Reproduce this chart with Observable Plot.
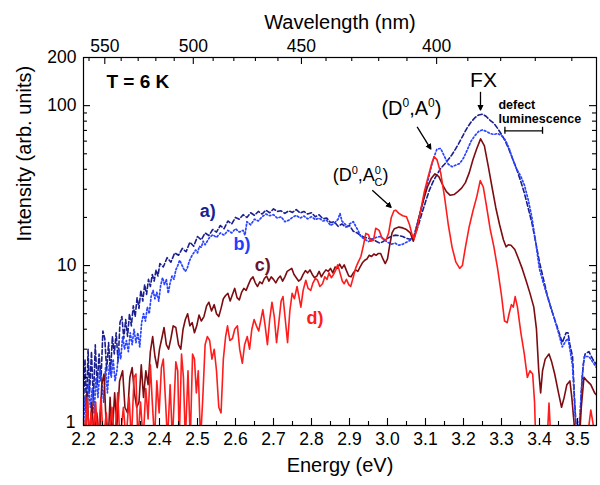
<!DOCTYPE html>
<html><head><meta charset="utf-8">
<script src="https://cdn.jsdelivr.net/npm/d3@7"></script>
<script src="https://cdn.jsdelivr.net/npm/@observablehq/plot@0.6"></script>
<style>body{margin:0;background:#fff} svg{font-family:"Liberation Sans",Arial,Helvetica,sans-serif}</style>
</head><body><div id="chart"></div>
<script>
// ---- data: [energy (eV), intensity (arb. units)] ----
const seriesA = [[2.200,1.3],[2.204,2.6],[2.208,1.2],[2.212,3.0],[2.216,1.6],[2.221,2.9],[2.226,1.4],[2.231,3.2],[2.236,1.8],[2.241,2.8],[2.246,1.9],[2.251,3.9],[2.256,3.5],[2.261,2.2],[2.266,3.3],[2.271,2.1],[2.276,3.6],[2.281,2.8],[2.286,3.8],[2.291,2.5],[2.296,4.4],[2.301,4.8],[2.306,3.5],[2.311,4.6],[2.316,3.6],[2.321,5.0],[2.326,4.2],[2.331,5.6],[2.336,4.8],[2.341,6.3],[2.346,5.4],[2.351,7.0],[2.356,6.0],[2.361,7.6],[2.366,6.6],[2.371,8.2],[2.376,7.4],[2.381,8.8],[2.386,8.0],[2.391,9.4],[2.396,8.6],[2.401,10.3],[2.41,9.8],[2.42,11.2],[2.43,10.5],[2.44,12.0],[2.45,11.6],[2.46,12.8],[2.47,12.2],[2.48,14.0],[2.49,13.2],[2.50,15.2],[2.51,14.5],[2.52,16.0],[2.53,15.4],[2.54,16.8],[2.55,16.2],[2.56,17.8],[2.57,17.0],[2.58,19.0],[2.59,18.2],[2.60,20.0],[2.61,19.5],[2.62,20.8],[2.63,20.0],[2.64,21.4],[2.65,20.6],[2.66,21.8],[2.67,21.0],[2.68,22.2],[2.69,21.4],[2.70,22.6],[2.71,21.8],[2.72,22.0],[2.73,21.2],[2.74,22.0],[2.75,21.5],[2.76,22.4],[2.77,21.3],[2.78,21.8],[2.79,21.0],[2.80,21.4],[2.81,20.2],[2.82,20.8],[2.83,19.6],[2.84,19.8],[2.85,18.6],[2.86,18.8],[2.87,17.6],[2.88,18.2],[2.89,17.4],[2.90,17.8],[2.91,16.4],[2.92,16.0],[2.93,15.4],[2.94,15.0],[2.95,14.8],[2.96,14.6],[2.97,14.2],[2.98,13.8],[2.99,14.2],[3.00,14.8],[3.01,15.2],[3.02,15.5],[3.03,15.4],[3.04,15.2],[3.05,14.8],[3.06,14.6],[3.07,15.0],[3.08,17.5],[3.09,21.0],[3.10,25.0],[3.11,29.5],[3.12,33.5],[3.13,37.0],[3.14,40.5],[3.15,43.0],[3.16,46.0],[3.17,49.5],[3.18,54.0],[3.19,59.5],[3.20,66.0],[3.21,73.0],[3.22,79.0],[3.23,84.0],[3.24,87.5],[3.25,88.5],[3.26,85.5],[3.27,81.0],[3.28,77.5],[3.29,72.0],[3.30,66.0],[3.31,60.0],[3.32,53.0],[3.33,46.0],[3.34,40.0],[3.35,34.0],[3.36,28.5],[3.37,23.0],[3.38,18.5],[3.39,14.0],[3.40,10.5],[3.41,8.3],[3.42,6.6],[3.43,5.4],[3.44,4.6],[3.45,3.9],[3.46,3.3],[3.47,3.8],[3.475,3.8],[3.48,3.2],[3.487,2.7],[3.492,1.5],[3.496,1.0],[3.50,0.8],[3.505,0.9],[3.51,1.6],[3.515,2.4],[3.52,2.8],[3.53,2.9],[3.54,2.6],[3.55,2.4]];

const seriesB = [[2.200,1.0],[2.204,1.5],[2.208,1.1],[2.213,1.8],[2.218,1.3],[2.223,1.7],[2.228,1.2],[2.233,2.0],[2.238,1.5],[2.243,2.2],[2.248,1.9],[2.253,1.4],[2.258,2.3],[2.263,1.6],[2.268,2.4],[2.273,2.0],[2.278,2.6],[2.283,1.9],[2.288,2.2],[2.293,3.0],[2.298,2.6],[2.303,3.6],[2.308,3.0],[2.313,3.4],[2.318,2.9],[2.323,3.8],[2.328,3.2],[2.333,4.0],[2.338,3.3],[2.343,3.8],[2.348,3.1],[2.353,4.4],[2.358,5.0],[2.363,4.5],[2.368,5.5],[2.373,5.0],[2.378,6.4],[2.383,7.0],[2.388,6.2],[2.393,6.8],[2.398,6.0],[2.403,7.5],[2.408,8.4],[2.413,7.6],[2.418,8.2],[2.423,6.7],[2.428,7.8],[2.433,8.6],[2.438,8.2],[2.443,9.4],[2.448,10.0],[2.453,10.8],[2.458,10.2],[2.463,9.6],[2.468,9.2],[2.473,9.6],[2.478,10.6],[2.485,11.5],[2.49,12.0],[2.495,12.5],[2.50,12.0],[2.505,13.2],[2.51,13.0],[2.515,14.2],[2.52,13.5],[2.53,14.8],[2.54,15.6],[2.55,15.0],[2.56,16.0],[2.57,15.5],[2.58,16.6],[2.59,16.0],[2.60,17.0],[2.61,16.2],[2.62,16.6],[2.625,15.5],[2.63,18.8],[2.64,18.0],[2.65,19.5],[2.66,19.0],[2.67,20.2],[2.68,21.0],[2.69,20.5],[2.70,20.8],[2.71,19.8],[2.72,20.2],[2.73,18.8],[2.74,19.2],[2.75,20.0],[2.76,20.6],[2.77,19.8],[2.78,20.4],[2.79,19.6],[2.80,20.2],[2.81,19.4],[2.82,19.8],[2.83,19.0],[2.84,19.2],[2.85,17.8],[2.86,18.4],[2.87,19.5],[2.875,21.2],[2.88,19.0],[2.89,18.0],[2.895,17.5],[2.90,18.2],[2.91,18.8],[2.92,17.0],[2.93,15.2],[2.94,14.6],[2.95,14.1],[2.96,14.6],[2.97,15.0],[2.98,15.2],[2.99,14.6],[3.00,14.0],[3.01,13.6],[3.02,13.8],[3.03,13.4],[3.04,13.6],[3.05,14.0],[3.06,14.4],[3.07,15.5],[3.08,19.0],[3.09,23.0],[3.10,29.0],[3.11,37.0],[3.12,46.0],[3.13,53.5],[3.14,54.0],[3.15,48.0],[3.16,43.0],[3.17,41.5],[3.18,42.5],[3.19,43.5],[3.20,47.0],[3.21,53.0],[3.22,60.0],[3.23,65.0],[3.24,69.0],[3.25,70.5],[3.26,69.0],[3.27,67.0],[3.28,66.0],[3.29,67.0],[3.30,65.0],[3.31,61.0],[3.32,54.0],[3.33,46.0],[3.34,40.0],[3.35,36.5],[3.36,32.0],[3.37,26.0],[3.38,20.0],[3.39,14.0],[3.40,9.5],[3.41,7.8],[3.42,6.5],[3.43,5.5],[3.44,4.6],[3.45,3.8],[3.46,3.1],[3.47,3.4],[3.475,3.5],[3.48,3.0],[3.487,2.35],[3.492,1.4],[3.497,0.9],[3.502,0.9],[3.507,1.2],[3.512,2.0],[3.518,2.7],[3.53,2.7],[3.54,2.5],[3.55,2.3]];

const seriesC = [[2.200,1.0],[2.205,0.8],[2.210,1.6],[2.215,0.8],[2.222,1.4],[2.228,0.8],[2.235,1.2],[2.242,0.8],[2.248,1.8],[2.254,2.1],[2.259,1.1],[2.265,0.8],[2.27,1.5],[2.275,0.8],[2.282,1.6],[2.288,1.0],[2.295,1.9],[2.303,2.2],[2.309,1.3],[2.316,1.2],[2.322,2.0],[2.328,2.3],[2.334,1.6],[2.34,1.3],[2.346,1.4],[2.352,2.4],[2.358,1.5],[2.364,2.2],[2.37,1.8],[2.376,2.9],[2.382,3.6],[2.388,2.7],[2.394,2.3],[2.4,3.0],[2.406,3.5],[2.412,4.1],[2.418,3.2],[2.424,3.0],[2.43,3.5],[2.436,4.2],[2.443,4.1],[2.45,3.2],[2.456,3.0],[2.462,4.0],[2.468,4.6],[2.474,5.0],[2.48,4.2],[2.486,4.4],[2.492,3.8],[2.498,4.2],[2.504,4.9],[2.51,4.5],[2.517,4.8],[2.524,5.6],[2.53,5.9],[2.537,5.2],[2.544,5.7],[2.55,5.0],[2.556,4.8],[2.562,5.4],[2.568,6.2],[2.574,6.5],[2.58,6.7],[2.586,6.0],[2.592,6.6],[2.598,7.2],[2.604,6.3],[2.61,6.1],[2.616,6.8],[2.622,7.2],[2.628,7.0],[2.634,7.6],[2.64,8.2],[2.646,8.5],[2.652,7.8],[2.658,7.4],[2.664,7.9],[2.67,7.7],[2.676,8.3],[2.682,8.6],[2.688,8.0],[2.694,8.5],[2.70,8.2],[2.706,7.8],[2.712,8.3],[2.718,8.6],[2.724,8.0],[2.73,8.5],[2.736,9.2],[2.742,9.4],[2.748,9.6],[2.754,8.8],[2.76,8.4],[2.766,8.0],[2.772,8.2],[2.778,8.8],[2.784,9.3],[2.79,9.0],[2.796,9.4],[2.802,8.8],[2.808,8.4],[2.814,8.6],[2.82,9.2],[2.826,8.5],[2.832,9.0],[2.838,9.4],[2.844,9.2],[2.85,9.6],[2.856,9.0],[2.862,9.8],[2.868,9.6],[2.874,10.2],[2.88,9.6],[2.886,10.1],[2.892,9.3],[2.898,8.6],[2.904,8.5],[2.91,9.0],[2.916,9.4],[2.922,9.2],[2.928,9.8],[2.934,10.4],[2.94,10.8],[2.946,11.0],[2.952,11.6],[2.958,11.4],[2.964,11.8],[2.97,11.6],[2.976,11.9],[2.982,11.9],[2.988,11.0],[2.994,10.3],[3.00,11.0],[3.006,13.5],[3.012,16.0],[3.018,17.0],[3.03,17.4],[3.04,17.2],[3.05,16.8],[3.06,16.0],[3.068,14.2],[3.075,16.5],[3.085,21.0],[3.095,26.0],[3.105,31.0],[3.115,35.0],[3.125,37.5],[3.135,36.0],[3.145,32.0],[3.155,29.0],[3.165,27.5],[3.175,27.8],[3.185,29.0],[3.195,30.5],[3.205,33.0],[3.215,38.0],[3.225,46.0],[3.235,54.0],[3.245,62.0],[3.255,56.0],[3.265,42.0],[3.275,31.0],[3.285,23.0],[3.295,18.0],[3.305,14.5],[3.312,13.1],[3.318,13.5],[3.325,13.4],[3.335,12.6],[3.345,11.0],[3.355,9.5],[3.365,8.0],[3.375,6.7],[3.385,5.5],[3.392,4.0],[3.398,2.2],[3.403,1.6],[3.408,2.2],[3.415,2.6],[3.425,2.8],[3.432,2.5],[3.44,2.1],[3.45,1.6],[3.458,1.3],[3.465,1.5],[3.472,1.8],[3.48,1.9],[3.485,1.5],[3.49,1.1],[3.495,0.8],[3.505,0.8],[3.51,1.3],[3.517,2.0],[3.525,1.9],[3.535,1.8],[3.545,1.6],[3.55,1.55]];

const seriesD = [[2.200,1.1],[2.205,0.8],[2.21,1.5],[2.215,0.8],[2.22,1.2],[2.226,0.8],[2.232,1.4],[2.238,0.8],[2.246,1.5],[2.252,0.8],[2.26,1.2],[2.266,0.8],[2.275,1.3],[2.282,0.8],[2.29,1.6],[2.296,0.8],[2.305,1.3],[2.312,0.8],[2.32,1.5],[2.326,0.8],[2.333,2.0],[2.338,2.1],[2.343,0.8],[2.35,1.4],[2.357,0.8],[2.364,1.7],[2.37,1.1],[2.376,2.4],[2.381,1.4],[2.387,0.8],[2.393,1.9],[2.399,1.2],[2.405,2.3],[2.41,2.6],[2.416,1.4],[2.421,0.8],[2.428,1.8],[2.434,0.8],[2.443,2.5],[2.448,2.2],[2.452,0.8],[2.458,2.8],[2.463,2.0],[2.468,0.8],[2.475,2.2],[2.481,0.8],[2.487,2.8],[2.492,2.6],[2.497,1.6],[2.502,2.2],[2.508,0.8],[2.514,1.5],[2.52,3.2],[2.526,3.6],[2.532,3.4],[2.538,2.6],[2.544,3.0],[2.55,2.2],[2.556,1.3],[2.562,1.2],[2.568,2.6],[2.574,3.6],[2.579,4.2],[2.585,3.4],[2.592,3.5],[2.598,4.0],[2.605,4.2],[2.611,3.0],[2.618,2.45],[2.624,3.2],[2.631,3.6],[2.637,3.0],[2.643,4.0],[2.649,4.6],[2.655,4.2],[2.661,3.9],[2.667,4.6],[2.672,5.3],[2.678,4.2],[2.684,3.2],[2.69,4.6],[2.696,5.9],[2.702,4.8],[2.708,3.3],[2.714,4.4],[2.72,6.0],[2.725,6.4],[2.731,4.6],[2.737,3.3],[2.743,5.2],[2.749,6.7],[2.755,6.2],[2.762,7.4],[2.767,6.4],[2.772,5.5],[2.778,7.0],[2.785,8.1],[2.791,7.2],[2.798,7.0],[2.804,7.8],[2.81,8.3],[2.816,8.1],[2.822,7.4],[2.829,7.7],[2.835,8.5],[2.841,8.2],[2.846,9.0],[2.852,8.4],[2.858,8.8],[2.864,9.4],[2.869,10.1],[2.875,9.0],[2.881,8.0],[2.886,7.7],[2.892,8.2],[2.898,7.6],[2.903,7.4],[2.909,8.3],[2.916,9.6],[2.922,10.4],[2.93,11.4],[2.937,13.5],[2.943,15.9],[2.95,15.6],[2.956,14.2],[2.963,14.4],[2.969,17.1],[2.978,16.6],[2.985,15.0],[2.99,14.7],[2.996,14.4],[3.003,16.0],[3.01,20.0],[3.017,22.0],[3.022,22.2],[3.03,21.2],[3.04,20.5],[3.05,20.2],[3.058,18.0],[3.065,15.5],[3.07,14.7],[3.078,17.0],[3.087,22.0],[3.097,29.0],[3.107,36.0],[3.117,44.0],[3.123,47.9],[3.13,46.0],[3.14,38.0],[3.15,27.0],[3.16,18.0],[3.17,13.0],[3.18,10.5],[3.19,9.6],[3.197,10.0],[3.205,13.0],[3.215,17.5],[3.225,22.0],[3.235,27.0],[3.244,34.0],[3.252,31.0],[3.26,24.0],[3.27,17.0],[3.28,13.1],[3.29,9.5],[3.30,6.5],[3.308,4.5],[3.315,4.4],[3.32,5.0],[3.326,5.7],[3.331,5.5],[3.336,6.4],[3.342,5.5],[3.351,3.8],[3.36,2.8],[3.368,2.0],[3.375,2.2],[3.382,2.1],[3.387,1.4],[3.39,0.8],[3.42,0.8],[3.425,1.38],[3.43,0.8],[3.525,0.8],[3.535,1.25],[3.545,0.9],[3.55,0.8]];

const seriesColors = ["#1b1f8f", "#2a44ff", "#7d0c10", "#ff1c1c"];
const seriesNames = ["a)", "b)", "c)", "d)"];
const labelColors = ["#1b1f8f", "#1f3cff", "#6a1530", "#ff1c1c"];
const labelEnergy = [2.527, 2.617, 2.672, 2.809];
const labelIntensity = [21.9, 13.6, 10.1, 4.7];

// axis ticks
const energyTicks = [2.2,2.3,2.4,2.5,2.6,2.7,2.8,2.9,3.0,3.1,3.2,3.3,3.4,3.5];
const energyMinor = d3.range(2.25, 3.55, 0.1);
const intensityTicks = [10, 100, 200];
const intensityBottomTick = [1];
const intensityMajor = [1, 10, 100];
const intensityMinor = [2,3,4,5,6,7,8,9,20,30,40,50,60,70,80,90];
const wavelengthTicks = [550, 500, 450, 400];
const wavelengthMinor = [560,540,530,520,510,490,480,470,460,440,430,420,410,390,380,370,360];
// wavelength (nm) -> position on the energy axis (top axis of the original is slightly stretched)
const wlPos = wl => 2.2 + (1239.84 / wl - 2.2) * 1.033;

// annotations
const arrows = [
  {x1: 3.2447, y1: 122, x2: 3.2447, y2: 95},   // FX
  {x1: 3.078, y1: 73.7, x2: 3.113, y2: 54},     // (D0,A0)
  {x1: 2.960, y1: 29.6, x2: 3.008, y2: 23.3}    // (D0,A0C)
];
const defectRange = [3.309, 3.408];
const defectLevel = 69.6;

const W = 600, H = 485, ML = 83, MR = 4, MT = 57, MB = 60;
const FW = W - ML - MR, FH = H - MT - MB;
const fs = 17.5;

const lineOpts = extra => Object.assign({x: d => d[0], y: d => d[1], clip: true, strokeWidth: 1.6, strokeLinejoin: "round"}, extra);

const chart = Plot.plot({
  width: W, height: H,
  marginLeft: ML, marginRight: MR, marginTop: MT, marginBottom: MB,
  x: {domain: [2.2, 3.55], axis: null},
  y: {type: "log", domain: [1, 200], axis: null},
  marks: [
    Plot.line(seriesA, lineOpts({stroke: seriesColors[0], strokeDasharray: "4.5,2.5"})),
    Plot.line(seriesB, lineOpts({stroke: seriesColors[1], strokeDasharray: "1.6,2.2", strokeWidth: 1.7})),
    Plot.line(seriesC, lineOpts({stroke: seriesColors[2]})),
    Plot.line(seriesD, lineOpts({stroke: seriesColors[3]})),
    Plot.frame({stroke: "black", strokeWidth: 1.2}),
    // bottom ticks (inward)
    Plot.ruleX(energyTicks, {x: d => d, insetTop: FH - 7, stroke: "black", strokeWidth: 1.1}),
    Plot.ruleX(energyMinor, {x: d => d, insetTop: FH - 4, stroke: "black", strokeWidth: 1.1}),
    // top ticks (wavelength)
    Plot.ruleX(wavelengthTicks, {x: wlPos, insetBottom: FH - 7, stroke: "black", strokeWidth: 1.1}),
    Plot.ruleX(wavelengthMinor, {x: wlPos, insetBottom: FH - 4, stroke: "black", strokeWidth: 1.1}),
    // left / right ticks
    Plot.ruleY(intensityMajor, {y: d => d, insetRight: FW - 7, stroke: "black", strokeWidth: 1.1}),
    Plot.ruleY(intensityMinor, {y: d => d, insetRight: FW - 4, stroke: "black", strokeWidth: 1.1}),
    Plot.ruleY(intensityMajor, {y: d => d, insetLeft: FW - 7, stroke: "black", strokeWidth: 1.1}),
    Plot.ruleY(intensityMinor, {y: d => d, insetLeft: FW - 4, stroke: "black", strokeWidth: 1.1}),
    // tick labels
    Plot.text(energyTicks, {x: d => d, frameAnchor: "bottom", dy: 19.5, text: d => d.toFixed(1), fontSize: fs, fill: "black"}),
    Plot.text(wavelengthTicks, {x: wlPos, frameAnchor: "top", dy: -18, text: d => String(d), fontSize: fs, fill: "black"}),
    Plot.text(intensityTicks, {y: d => d, frameAnchor: "left", dx: -7, textAnchor: "end", text: d => String(d), fontSize: fs, fill: "black"}),
    Plot.text(intensityBottomTick, {y: d => d, frameAnchor: "left", dx: -8, dy: -3, textAnchor: "end", text: d => String(d), fontSize: fs, fill: "black"}),
    // axis titles
    Plot.text(["Energy (eV)"], {frameAnchor: "bottom", dy: 46, text: d => d, fontSize: 20, fill: "black"}),
    Plot.text(["Wavelength (nm)"], {frameAnchor: "top", dy: -43, text: d => d, fontSize: 20, fill: "black"}),
    Plot.text(["Intensity (arb. units)"], {frameAnchor: "left", dx: -59, rotate: -90, text: d => d, fontSize: 20, fill: "black"}),
    // curve labels
    Plot.text(seriesNames, {x: (d, i) => labelEnergy[i], y: (d, i) => labelIntensity[i], text: d => d, fill: (d, i) => labelColors[i], fontSize: 18, fontWeight: "bold"}),
    // temperature
    Plot.text(["T = 6 K"], {x: 2.2605, y: 140, text: d => d, textAnchor: "start", fontSize: 19, fontWeight: "bold", fill: "black"}),
    // peak labels
    Plot.text(["FX"], {x: 3.2526, y: 144, text: d => d, fontSize: 21, fill: "black"}),
    Plot.text(["(D0,A0)"], {x: 3.063, y: 96.5, text: d => d, fontSize: 20, fill: "black"}),
    Plot.text(["(D0,A0C)"], {x: 2.929, y: 36.8, text: d => d, fontSize: 18, fill: "black"}),
    Plot.text(["defect", "luminescence"], {x: 3.292, y: (d, i) => [100.5, 82.5][i], text: d => d, textAnchor: "start", fontSize: 12.5, fontWeight: "bold", fill: "black"}),
    Plot.link(arrows, {x1: "x1", y1: "y1", x2: "x2", y2: "y2", stroke: "black", strokeWidth: 1.3, markerEnd: "arrow"}),
    Plot.ruleY([defectLevel], {x1: defectRange[0], x2: defectRange[1], stroke: "black", strokeWidth: 1.3}),
    Plot.ruleX(defectRange, {x: d => d, y1: 66.2, y2: 73.2, stroke: "black", strokeWidth: 1.3})
  ]
});

// filled arrow heads
chart.querySelectorAll("marker").forEach(m => {
  m.setAttribute("fill", "black");
  m.querySelectorAll("path").forEach(p => { p.setAttribute("d", "M-4.5,-2.6L0.8,0L-4.5,2.6Z"); p.setAttribute("fill", "black"); });
});

// superscripts / subscripts in peak labels
const NS = "http://www.w3.org/2000/svg";
function rich(el, parts) {
  el.textContent = "";
  for (const p of parts) {
    const t = document.createElementNS(NS, "tspan");
    t.textContent = p.t;
    if (p.dy) t.setAttribute("dy", p.dy);
    if (p.dx) t.setAttribute("dx", p.dx);
    if (p.fs) t.setAttribute("font-size", p.fs);
    el.appendChild(t);
  }
}
chart.querySelectorAll("text").forEach(el => {
  if (el.textContent === "(D0,A0)") {
    rich(el, [{t: "(D"}, {t: "0", dy: -8, fs: 12}, {t: ",A", dy: 8}, {t: "0", dy: -8, fs: 12}, {t: ")", dy: 8}]);
  } else if (el.textContent === "(D0,A0C)") {
    rich(el, [{t: "(D"}, {t: "0", dy: -7, fs: 11}, {t: ",A", dy: 7}, {t: "0", dy: -7, fs: 11}, {t: "C", dx: -6.5, dy: 12, fs: 11}, {t: ")", dy: -5}]);
  }
});

document.getElementById("chart").appendChild(chart);
</script>
</body></html>
